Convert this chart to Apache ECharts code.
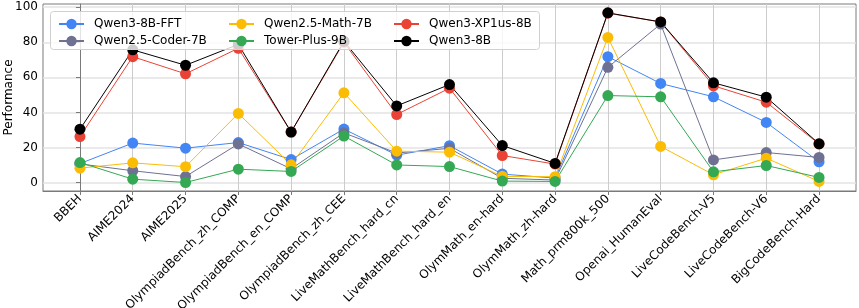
<!DOCTYPE html>
<html><head><meta charset="utf-8">
<script src="https://cdn.jsdelivr.net/npm/echarts@6/dist/echarts.min.js"></script>
<style>html,body{margin:0;padding:0;background:#fff}#c{width:859px;height:308px}</style>
</head><body><div id="c"></div>
<script>
const categories = ['BBEH','AIME2024','AIME2025','OlympiadBench_zh_COMP','OlympiadBench_en_COMP','OlympiadBench_zh_CEE','LiveMathBench_hard_cn','LiveMathBench_hard_en','OlymMath_en-hard','OlymMath_zh-hard','Math_prm800k_500','Openai_HumanEval','LiveCodeBench-V5','LiveCodeBench-V6','BigCodeBench-Hard'];
const yTicks = [0, 20, 40, 60, 80, 100];
const qwen3_8b_fft   = [10.8, 22.5, 19.6, 22.8, 13.1, 30.5, 15.6, 21.0, 4.8, 2.5, 71.8, 56.5, 48.9, 34.3, 11.8];
const qwen25_coder   = [10.6, 6.7, 3.4, 22.0, 7.8, 28.3, 16.8, 19.5, 2.4, 1.4, 65.7, 90.4, 12.9, 17.1, 14.3];
const qwen25_math    = [8.2, 11.2, 9.0, 39.4, 10.1, 51.2, 17.9, 17.3, 3.5, 3.3, 82.8, 20.6, 4.4, 13.9, 0.6];
const tower_plus     = [11.4, 1.9, 0.0, 7.6, 6.3, 26.5, 10.0, 9.1, 0.8, 0.6, 49.6, 48.9, 6.1, 9.7, 2.9];
const qwen3_xp1us    = [26.2, 71.8, 62.0, 76.6, 28.8, 80.0, 38.8, 53.8, 15.4, 10.5, 96.6, 91.6, 55.2, 45.8, 22.0];
const qwen3_8b       = [30.4, 75.7, 66.9, 78.8, 28.8, 80.6, 43.7, 55.9, 21.1, 10.9, 96.8, 91.6, 56.9, 48.7, 22.1];

const seriesDefs = [
  ['Qwen3-8B-FFT', qwen3_8b_fft, '#4285F4'],
  ['Qwen2.5-Coder-7B', qwen25_coder, '#6E7191'],
  ['Qwen2.5-Math-7B', qwen25_math, '#FBBC04'],
  ['Tower-Plus-9B', tower_plus, '#34A853'],
  ['Qwen3-XP1us-8B', qwen3_xp1us, '#EA4335'],
  ['Qwen3-8B', qwen3_8b, '#000000']
];
const FONT = '"DejaVu Sans"';
const idx = categories.map((c, i) => i);
const frame = '#7a7a7a';

const chart = echarts.init(document.getElementById('c'), null, {renderer: 'canvas'});
const legendBase = {
  orient: 'vertical', top: 13, itemWidth: 25, itemHeight: 13, itemGap: 5, z: 20,
  textStyle: {fontFamily: FONT, fontSize: 12, color: '#000', padding: [0, 0, 0, 5]}
};
chart.setOption({
  animation: false,
  grid: {left: 43, right: 3, top: 4, bottom: 117, show: true, borderColor: frame, borderWidth: 1,
    backgroundColor: 'transparent', outerBoundsMode: 'none', containLabel: false},
  legend: [
    Object.assign({left: 53, data: ['Qwen3-8B-FFT', 'Qwen2.5-Coder-7B']}, legendBase),
    Object.assign({left: 223, data: ['Qwen2.5-Math-7B', 'Tower-Plus-9B']}, legendBase),
    Object.assign({left: 388, data: ['Qwen3-XP1us-8B', 'Qwen3-8B']}, legendBase)
  ],
  graphic: [{
    type: 'rect', z: 15, shape: {x: 50.5, y: 11.5, width: 489, height: 38, r: 3},
    style: {fill: 'rgba(255,255,255,0.8)', stroke: '#d0d0d0', lineWidth: 1}
  }],
  xAxis: {
    type: 'value', min: -0.7, max: 14.7,
    axisLine: {show: true, onZero: false, lineStyle: {color: frame}},
    axisTick: {show: true, length: 4, customValues: idx, lineStyle: {color: frame}},
    axisLabel: {customValues: idx, rotate: 45, margin: 6, fontFamily: FONT, fontSize: 12, color: '#000',
      formatter: v => categories[Math.round(v)] || ''},
    splitLine: {show: true, lineStyle: {color: '#cccccc', width: 1}}
  },
  yAxis: {
    type: 'value', min: -4.85, max: 101.85,
    name: 'Performance', nameLocation: 'middle', nameGap: 34, nameMoveOverlap: false,
    nameTextStyle: {fontFamily: FONT, fontSize: 12, color: '#000', verticalAlign: 'middle'},
    axisLine: {show: true, lineStyle: {color: frame}},
    axisTick: {show: true, length: 4, customValues: yTicks, lineStyle: {color: frame}},
    axisLabel: {customValues: yTicks, margin: 5, fontFamily: FONT, fontSize: 12, color: '#000'},
    splitLine: {show: true, lineStyle: {color: '#e3e3e3', width: 1.5}}
  },
  series: seriesDefs.map(([name, vals, color]) => ({
    name, type: 'line', symbol: 'circle', symbolSize: 11, showSymbol: true,
    data: vals.map((v, i) => [i, v]),
    itemStyle: {color, borderWidth: 0},
    lineStyle: {color, width: 1},
    emphasis: {disabled: true}
  }))
});
</script></body></html>
